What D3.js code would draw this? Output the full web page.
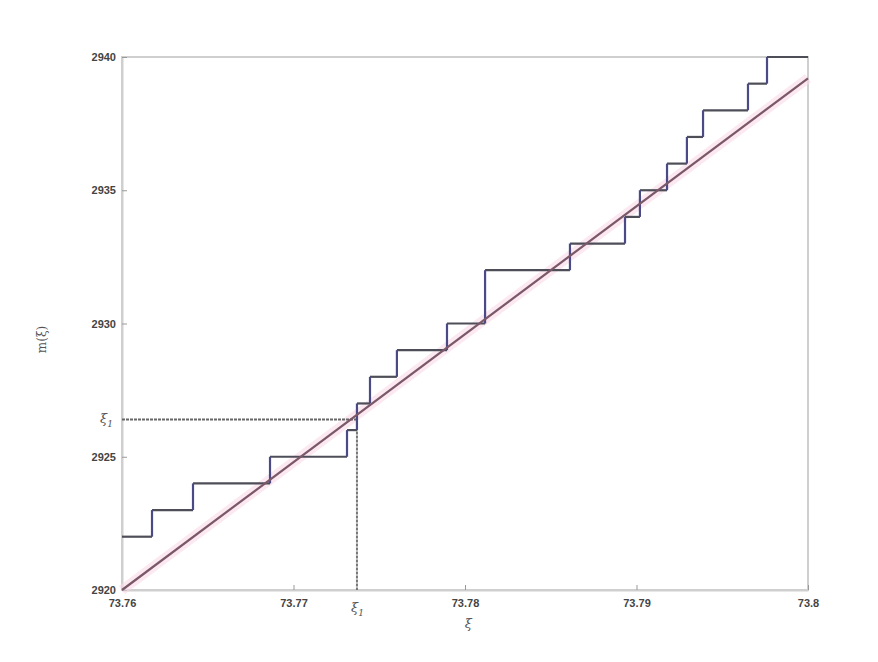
<!DOCTYPE html>
<html><head><meta charset="utf-8">
<script src="https://cdn.jsdelivr.net/npm/d3@7"></script>
<style>body{margin:0;background:#fff;font-family:"Liberation Sans",Arial,sans-serif;}</style>
</head><body><svg id="c" width="878" height="662"></svg>
<script>
// Data
const xDomain = [73.76, 73.80];
const yDomain = [2920, 2940];
const xTicks = [73.76, 73.77, 73.78, 73.79, 73.80];
const xTickLabels = ["73.76", "73.77", "73.78", "73.79", "73.8"];
const yTicks = [2920, 2925, 2930, 2935, 2940];
const yTickLabels = ["2920", "2925", "2930", "2935", "2940"];
// staircase: jump positions and level after each jump
const stepStartValue = 2922;
const stepX = [73.76175, 73.76414, 73.76863, 73.77312, 73.7737, 73.77446, 73.77603, 73.77895, 73.78117, 73.78612, 73.78933, 73.7902, 73.79178, 73.79294, 73.79388, 73.7965, 73.79761];
const stepY = [2923, 2924, 2925, 2926, 2927, 2928, 2929, 2930, 2932, 2933, 2934, 2935, 2936, 2937, 2938, 2939, 2940];
// linear approximation line
const lineX = [73.76, 73.80];
const lineY = [2920, 2939.2];
// marked point xi_1
const xi1 = 73.7737;
const m1 = 2926.4;

const svg = d3.select("#c");
const M = {l:122, r:808, t:57, b:590};
const x = d3.scaleLinear().domain(xDomain).range([M.l, M.r]);
const y = d3.scaleLinear().domain(yDomain).range([M.b, M.t]);

// frame
svg.append("rect").attr("x",M.l).attr("y",M.t).attr("width",M.r-M.l).attr("height",M.b-M.t)
  .attr("fill","none").attr("stroke","#cfcfcf").attr("stroke-width",2);

// axes
const xa = svg.append("g").attr("transform",`translate(0,${M.b})`)
  .call(d3.axisBottom(x).tickValues(xTicks).tickFormat((d,i)=>xTickLabels[i]).tickSizeInner(-5).tickSizeOuter(0).tickPadding(9));
const ya = svg.append("g").attr("transform",`translate(${M.l},0)`)
  .call(d3.axisLeft(y).tickValues(yTicks).tickFormat((d,i)=>yTickLabels[i]).tickSizeInner(-5).tickSizeOuter(0).tickPadding(6));
[xa,ya].forEach(a=>{
  a.select(".domain").attr("stroke","#cfcfcf").attr("stroke-width",2);
  a.selectAll(".tick line").attr("stroke","#999");
  a.selectAll(".tick text").attr("fill","#444").attr("font-size",11).attr("font-weight","bold").attr("font-family","Liberation Sans, Arial, sans-serif");
});

// halo under line
const lineData = lineX.map((d,i)=>[d,lineY[i]]);
const lg = d3.line().x(d=>x(d[0])).y(d=>y(d[1]));
svg.append("path").attr("d",lg(lineData)).attr("fill","none").attr("stroke","#f8d8e6").attr("stroke-width",10).attr("opacity",0.6);

// dotted xi_1 guides
svg.append("line").attr("x1",x(xDomain[0])).attr("x2",x(xi1)).attr("y1",y(m1)).attr("y2",y(m1))
  .attr("stroke","#666").attr("stroke-width",2).attr("stroke-dasharray","3,1");
svg.append("line").attr("x1",x(xi1)).attr("x2",x(xi1)).attr("y1",y(m1)).attr("y2",y(yDomain[0]))
  .attr("stroke","#777").attr("stroke-width",2).attr("stroke-dasharray","3,1");

// staircase
const xs = [xDomain[0], ...stepX, xDomain[1]];
const ys = [stepStartValue, ...stepY];
const hSeg = ys.map((v,i)=>({x1:xs[i], x2:xs[i+1], y:v}));
const vSeg = stepX.map((sx,i)=>({x:sx, y1:ys[i], y2:ys[i+1]}));
svg.append("g").selectAll("line").data(hSeg).join("line")
  .attr("x1",d=>x(d.x1)).attr("x2",d=>x(d.x2)).attr("y1",d=>y(d.y)).attr("y2",d=>y(d.y))
  .attr("stroke","#4e4e58").attr("stroke-width",2.2);
svg.append("g").selectAll("line").data(vSeg).join("line")
  .attr("x1",d=>x(d.x)).attr("x2",d=>x(d.x)).attr("y1",d=>y(d.y1)).attr("y2",d=>y(d.y2))
  .attr("stroke","#4a4a86").attr("stroke-width",2.2);

// line
svg.append("path").attr("d",lg(lineData)).attr("fill","none").attr("stroke","#7a5868").attr("stroke-width",2.2);

// labels
function xiLabel(g, px, py){
  const t = svg.append("text").attr("x",px).attr("y",py).attr("fill","#555").attr("font-size",13)
    .attr("font-family","DejaVu Serif, serif").attr("font-style","italic");
  t.append("tspan").text("ξ");
  t.append("tspan").attr("dy",4).attr("font-size",9).text("1");
}
xiLabel(svg, x(xi1)-6, 612);
xiLabel(svg, 100, y(m1)+4);

svg.append("text").attr("x",x(73.7802)).attr("y",628).attr("text-anchor","middle").attr("fill","#555")
  .attr("font-size",13).attr("font-family","DejaVu Serif, serif").attr("font-style","italic").text("ξ");
svg.append("text").attr("transform",`translate(46,${y(2929.4)}) rotate(-90)`).attr("text-anchor","middle")
  .attr("fill","#555").attr("font-size",12).attr("font-family","DejaVu Serif, serif").text("m(ξ)");
</script></body></html>
